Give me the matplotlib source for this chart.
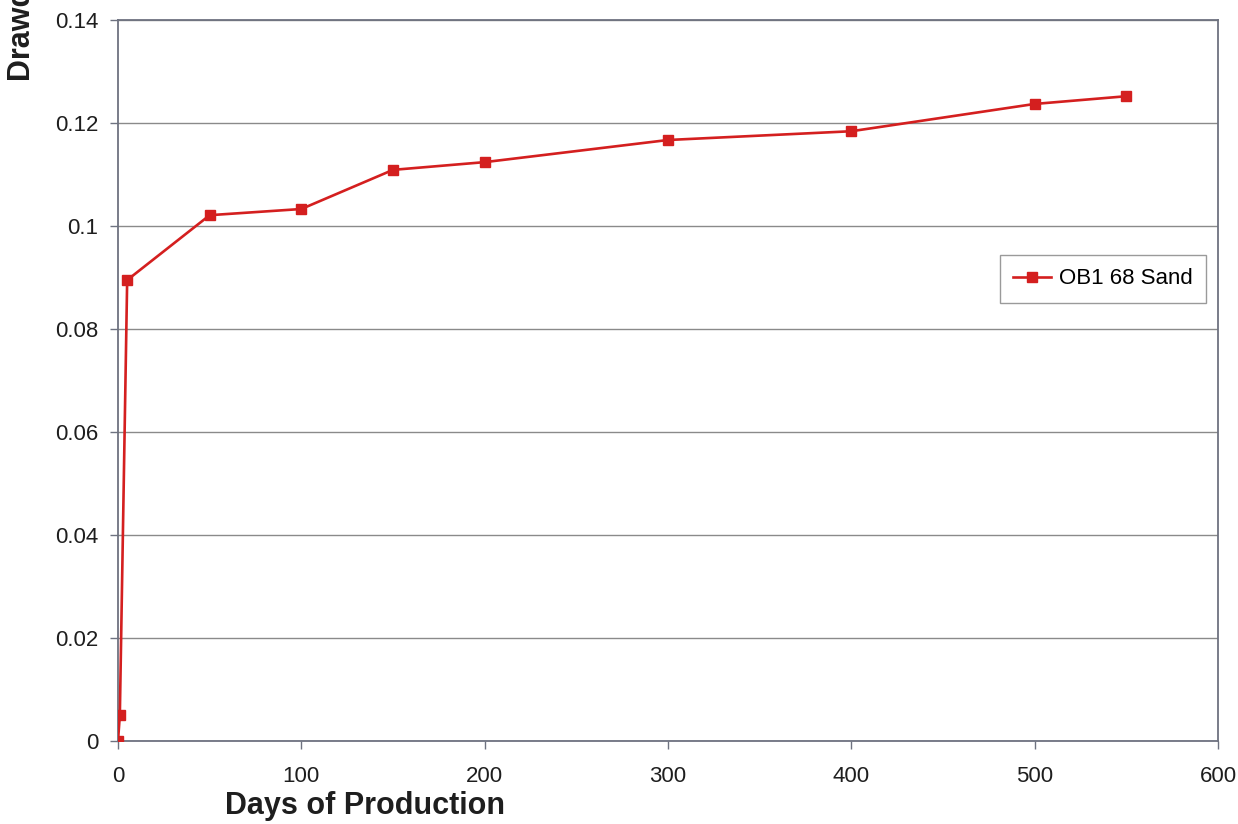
import matplotlib
matplotlib.use("Agg")
import matplotlib.pyplot as plt

days = [0, 1, 5, 50, 100, 150, 200, 300, 400, 500, 550]
drawdown = [0.0, 0.005, 0.0895, 0.1021, 0.1033, 0.1109, 0.1124, 0.1167, 0.1184, 0.1237, 0.1252]
series_name = "OB1 68 Sand"
x_ticks = [0, 100, 200, 300, 400, 500, 600]
y_ticks = [0, 0.02, 0.04, 0.06, 0.08, 0.1, 0.12, 0.14]
y_tick_labels = ["0", "0.02", "0.04", "0.06", "0.08", "0.1", "0.12", "0.14"]

plt.rcParams['font.family'] = ['Liberation Sans', 'DejaVu Sans']

W, H = 1238, 824
fig = plt.figure(figsize=(W / 100, H / 100), dpi=100)
ax = fig.add_axes([118 / W, 1 - 741 / H, 1100 / W, 721 / H])

ax.plot(days, drawdown, color="#d41f1f", lw=1.9, marker="s", ms=7.5,
        markeredgecolor="#d41f1f", label=series_name, zorder=3)

ax.set_xlim(0, 600)
ax.set_ylim(0, 0.14)
ax.set_xticks(x_ticks)
ax.set_yticks(y_ticks)
ax.set_yticklabels(y_tick_labels)
ax.tick_params(labelsize=16, colors="#6e7280", labelcolor="#1e1e1e", length=6, width=1)
ax.tick_params(axis="x", pad=12)
ax.tick_params(axis="y", pad=8)
ax.yaxis.grid(True, color="#8a8a8a", lw=1)
ax.set_axisbelow(True)
for s in ax.spines.values():
    s.set_color("#6e7280")
    s.set_linewidth(1.3)

leg = ax.legend(loc="upper left", bbox_to_anchor=((1000 - 118) / 1100, (741 - 255) / 721),
                fancybox=False, edgecolor="#9a9a9a", fontsize=16, framealpha=1,
                handlelength=1.7, handletextpad=0.35, borderpad=0.6,
                borderaxespad=0)
leg.get_frame().set_linewidth(1)

fig.text(365 / W, 1 - 806 / H, "Days of Production", ha="center", va="center",
         fontsize=22, fontweight="bold", color="#1e1e1e")
fig.text(22 / W, 1 - 81 / H, "Drawdown (MPa)", rotation=90, ha="center", va="bottom",
         fontsize=22, fontweight="bold", color="#1e1e1e")

fig.savefig("out.png", dpi=100)
